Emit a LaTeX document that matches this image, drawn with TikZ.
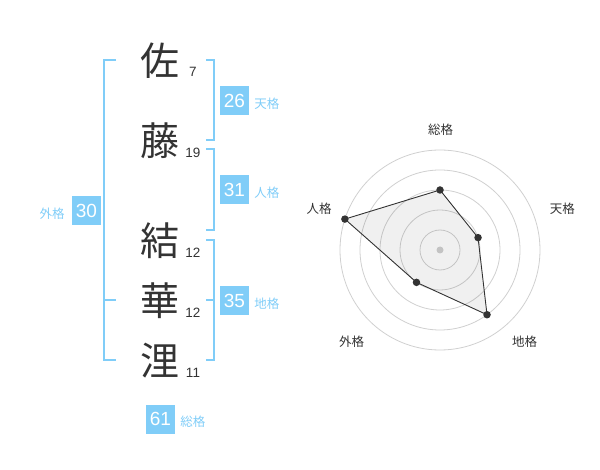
\documentclass[tikz,border=0pt]{standalone}
\usepackage{fontspec}
\setmainfont{Liberation Sans}
\newfontfamily\cjk{Noto Sans CJK JP}
\definecolor{fblue}{RGB}{128,205,248}
\definecolor{dtext}{RGB}{51,51,51}
\definecolor{ring}{RGB}{208,208,208}
\tikzset{
  kanji/.style={inner sep=0pt, text=dtext, font=\cjk\fontsize{39}{40}\selectfont},
  strokes/.style={inner sep=0pt, text=dtext, font=\fontsize{13.5}{14}\selectfont},
  numbox/.style={fill=fblue, text=white, minimum width=29pt, minimum height=29pt, inner sep=0pt, font=\fontsize{19}{19}\selectfont},
  kaku/.style={inner sep=0pt, text=fblue, font=\cjk\fontsize{12.5}{13}\selectfont},
  brk/.style={draw=fblue, line width=2pt},
  axlabel/.style={inner sep=0pt, text=dtext, font=\cjk\fontsize{12.5}{13}\selectfont},
  ringc/.style={draw=ring, line width=0.8pt},
  dot/.style={circle, fill=dtext, minimum size=7.5pt, inner sep=0pt},
}
\begin{document}
\begin{tikzpicture}[x=1pt,y=-1pt]
\useasboundingbox (0,0) rectangle (600,470);
% kanji
\node[kanji] (k1) at (160,61) {佐};
\node[kanji] (k2) at (160,141) {藤};
\node[kanji] (k3) at (160,241) {結};
\node[kanji] (k4) at (160,301) {華};
\node[kanji] (k5) at (160,361) {浬};
\node[strokes] (n1) at (193,72) {7};
\node[strokes] (n2) at (193,152.5) {19};
\node[strokes] (n3) at (193,253) {12};
\node[strokes] (n4) at (193,313) {12};
\node[strokes] (n5) at (193,373) {11};
% brackets
\draw[brk] (116,60) -- (104,60) -- (104,360) -- (116,360);
\draw[brk] (104,300) -- (116,300);
\draw[brk] (206,60) -- (214,60) -- (214,140) -- (206,140);
\draw[brk] (206,149) -- (214,149) -- (214,230) -- (206,230);
\draw[brk] (206,240) -- (214,240) -- (214,360) -- (206,360);
\draw[brk] (206,300) -- (214,300);
% boxes
\node[numbox] (b1) at (234.5,100.5) {26};
\node[kaku, anchor=west] (l1) at ([xshift=5pt,yshift=-3pt]b1.east) {天格};
\node[numbox] (b2) at (234.5,190) {31};
\node[kaku, anchor=west] (l2) at ([xshift=5pt,yshift=-3pt]b2.east) {人格};
\node[numbox] (b3) at (86.5,210.5) {30};
\node[kaku, anchor=east] (l3) at ([xshift=-7pt,yshift=-3pt]b3.west) {外格};
\node[numbox] (b4) at (234.5,300.5) {35};
\node[kaku, anchor=west] (l4) at ([xshift=5pt,yshift=-3pt]b4.east) {地格};
\node[numbox] (b5) at (160.5,419) {61};
\node[kaku, anchor=west] (l5) at ([xshift=5pt,yshift=-3pt]b5.east) {総格};
% radar
\begin{scope}[shift={(440,250)}, yscale=-1]
  \foreach \r in {20,40,60,80,100} \draw[ringc] (0,0) circle[radius=\r];
  \fill[ring] (0,0) circle[radius=3.5];
  \coordinate (p1) at (90:60);
  \coordinate (p2) at (18:40);
  \coordinate (p3) at (-54:80);
  \coordinate (p4) at (-126:40);
  \coordinate (p5) at (162:100);
  \filldraw[fill=black, fill opacity=0.06, draw=dtext, line width=0.9pt, line join=round]
    (p1) -- (p2) -- (p3) -- (p4) -- (p5) -- cycle;
  \foreach \p in {p1,p2,p3,p4,p5} \node[dot] (d\p) at (\p) {};
\end{scope}
\node[axlabel] (a1) at (440.7,130) {総格};
\node[axlabel] (a2) at (562.3,208.5) {天格};
\node[axlabel] (a3) at (524.5,342) {地格};
\node[axlabel] (a4) at (351.7,342) {外格};
\node[axlabel] (a5) at (319,209) {人格};
\end{tikzpicture}
\end{document}
